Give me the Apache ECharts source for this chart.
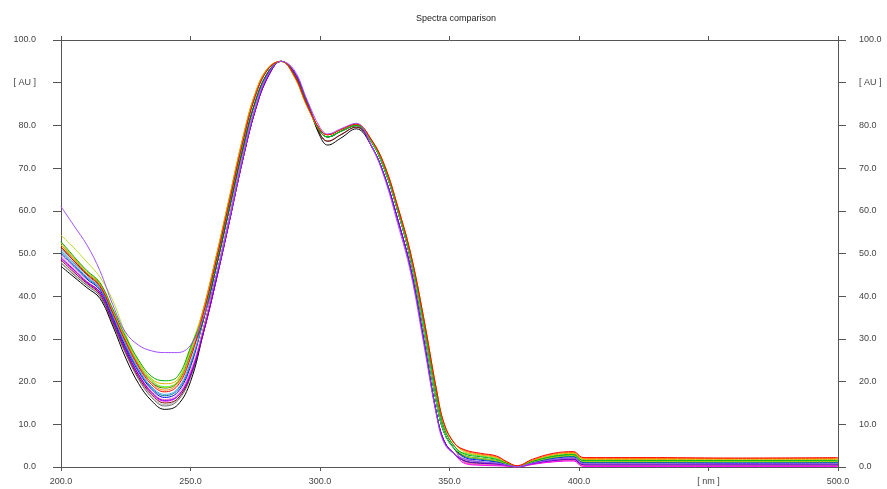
<!DOCTYPE html>
<html>
<head>
<meta charset="utf-8">
<title>Spectra comparison</title>
<script src="https://cdn.jsdelivr.net/npm/echarts@6/dist/echarts.min.js"></script>
<style>
  html, body { margin: 0; padding: 0; background: #fff; }
  #main { width: 887px; height: 489px; }
</style>
</head>
<body>
<div id="main"></div>
<script>
// wavelength grid [nm], shared by every spectrum
var wl = [200, 205, 210, 215, 220, 225, 230, 235, 240, 245, 250, 255, 260, 265, 270, 275, 280, 285, 290, 295,
          300, 303, 308, 314, 320, 325, 330, 335, 340, 345, 348, 352, 356, 362, 368, 372, 376, 382, 390, 398,
          401, 403, 430, 460, 500];

// absorbance [AU], one array per trace
var blackVals = [47, 44.5, 42, 39.5, 33, 25.5, 19.5, 15.5, 13.5, 14.5, 20, 31.5, 44, 57.5, 71.5, 83.5, 91.5, 95, 92.5, 85.5,
                 77.5, 75.4, 77, 79.2, 75, 68, 58, 46.5, 30, 12.5, 6, 3, 1.4, 0.9, 0.7, 0.4, 0.1, 0.8, 1.5, 1.8,
                 0.6, 0.5, 0.5, 0.5, 0.5];
var grayVals = [47.8, 45, 42.5, 40, 33.5, 26.5, 20.5, 16.3, 14.3, 15.5, 21, 31.5, 44, 57.5, 71.5, 83.5, 91.5, 95, 92.5, 85.5,
                78, 76.3, 77.8, 79.6, 75, 68, 58, 46.5, 30, 12.5, 6, 3, 1.8, 1.2, 0.9, 0.5, 0.1, 0.9, 1.7, 2.1,
                0.8, 0.7, 0.7, 0.7, 0.7];
var maroonVals = [48.5, 45.6, 43, 40.5, 34, 27, 21, 17, 15, 16, 21.5, 32.5, 45, 58.5, 72.5, 84.2, 92, 95, 92.3, 85.2,
                  78, 76.3, 77.8, 79.6, 76, 69.5, 60, 48.5, 32.5, 15, 8, 4.2, 1.1, 0.6, 0.5, 0.3, 0, 0.7, 1.3, 1.6,
                  0.4, 0.3, 0.3, 0.3, 0.3];
var magentaVals = [48.8, 46, 43.2, 40.8, 34.3, 27.3, 21.4, 17.3, 15.4, 16.5, 22, 31.5, 44, 57.5, 71.5, 83.5, 91.5, 95, 92.5, 85.5,
                   78.6, 77.3, 78.6, 80, 75, 68, 58, 46.5, 30, 12.5, 6, 3, 0.8, 0.4, 0.3, 0.2, 0, 0.6, 1.2, 1.4,
                   0.2, 0.1, 0.1, 0.1, 0.1];
var pinkVals = [49.5, 46.5, 43.5, 41, 34.6, 27.6, 21.8, 17.7, 15.8, 17, 22.5, 32.5, 45, 58.5, 72.5, 84.2, 92, 95, 92.3, 85.2,
                78.6, 77.3, 78.6, 80, 76, 69.5, 60, 48.5, 32.5, 15, 8, 4.2, 1.1, 0.6, 0.5, 0.3, 0, 0.7, 1.3, 1.6,
                0.4, 0.3, 0.3, 0.3, 0.3];
var purpleVals = [49, 46.2, 43.3, 41, 34.5, 27.5, 21.6, 17.5, 15.6, 16.6, 21.5, 31.5, 44, 57.5, 71.5, 83.5, 91.5, 95, 92.5, 85.5,
                  78.6, 77.3, 78.6, 80, 75, 68, 58, 46.5, 30, 12.5, 6, 3, 1.4, 0.9, 0.7, 0.4, 0.1, 0.8, 1.5, 1.8,
                  0.6, 0.5, 0.5, 0.5, 0.5];
var blueVals = [50, 47, 44, 41.5, 35, 28, 22.3, 18.2, 16.3, 17.5, 23.5, 34.5, 47, 60.5, 74, 85.5, 92.5, 95, 92, 85,
                78.6, 77.3, 78.6, 80, 76, 69.5, 60, 48.5, 32.5, 15, 8, 4.2, 2.2, 1.6, 1.2, 0.6, 0.1, 1, 2, 2.4,
                1.1, 1, 1, 0.9, 1];
var tealVals = [50.5, 47.4, 44.3, 41.8, 35.3, 28.4, 22.6, 18.5, 16.7, 18, 24, 34.5, 47, 60.5, 74, 85.5, 92.5, 95, 92, 85,
                78.6, 77.3, 78.6, 80, 76, 69.5, 60, 48.5, 32.5, 15, 8, 4.2, 2.4, 1.8, 1.3, 0.7, 0.1, 1.1, 2.1, 2.5,
                1.2, 1.1, 1.1, 1.1, 1.1];
var skyVals = [51, 47.8, 44.6, 42, 35.6, 28.7, 22.9, 18.8, 17, 18.3, 24.5, 34.5, 47, 60.5, 74, 85.5, 92.5, 95, 92, 85,
               78.6, 77.3, 78.6, 80, 76.3, 70, 60.5, 49.3, 34, 16.8, 9, 4.8, 2.6, 2, 1.5, 0.8, 0.2, 1.2, 2.3, 2.7,
               1.4, 1.3, 1.3, 1.3, 1.3];
var silverVals = [48, 45.2, 42.7, 40.2, 33.8, 26.8, 20.8, 16.6, 14.6, 15.8, 21.5, 32.5, 45, 58.5, 72.5, 84.2, 92, 95, 92.3, 85.2,
                  78, 76.3, 77.8, 79.6, 76, 69.5, 60, 48.5, 32.5, 15, 8, 4.2, 1.8, 1.2, 0.9, 0.5, 0.1, 0.9, 1.7, 2.1,
                  0.8, 0.7, 0.7, 0.7, 0.7];
var redVals = [51.5, 48.2, 45, 42.3, 36, 29.2, 23.4, 19.3, 17.6, 19, 25.5, 36, 48.5, 62, 75.5, 86.8, 93.2, 95, 91.8, 84.8,
               79, 77.8, 79, 80.3, 76.5, 70.5, 61, 50, 35, 18, 10, 5.5, 4, 3.2, 2.6, 1.3, 0.3, 1.8, 3.2, 3.6,
               2.3, 2.2, 2.2, 2.1, 2.2];
var orangeVals = [52, 48.6, 45.4, 42.7, 36.3, 29.6, 23.8, 19.7, 18, 19.5, 26, 37, 49.5, 63, 76.5, 87.5, 93.5, 95, 91.5, 84.5,
                  79, 77.8, 79, 80.3, 76.5, 70.5, 61, 50, 35, 18, 10, 5.5, 3.8, 3, 2.4, 1.2, 0.3, 1.6, 3, 3.4,
                  2.1, 2, 2, 2, 2];
var goldVals = [52.5, 49, 45.8, 43, 36.8, 30.2, 24.6, 20.6, 19.5, 20.5, 27.5, 37, 49.5, 63, 76.5, 87.5, 93.5, 95, 91.5, 84.5,
                79, 77.8, 79, 80.3, 76.5, 70.5, 61, 50, 35, 18, 10, 5.5, 3.5, 2.8, 2.2, 1.1, 0.2, 1.5, 2.8, 3.2,
                1.9, 1.8, 1.8, 1.8, 1.8];
var greenVals = [52.8, 49.3, 46, 43.2, 37, 30.5, 25, 21.2, 20.2, 21.2, 28, 36, 48.5, 62, 75.5, 86.8, 93.2, 95, 91.8, 84.8,
                 78.6, 77.3, 78.6, 80, 76.3, 70, 60.5, 49.3, 34, 16.8, 9, 4.8, 3, 2.4, 1.8, 0.9, 0.2, 1.3, 2.5, 2.9,
                 1.6, 1.5, 1.5, 1.5, 1.5];
var limeVals = [52, 48.8, 45.5, 42.8, 36.5, 29.9, 24.2, 20.2, 18.8, 20, 27, 37, 49.5, 63, 76.5, 87.5, 93.5, 95, 91.5, 84.5,
                78.6, 77.3, 78.6, 80, 76, 69.5, 60, 48.5, 32.5, 15, 8, 4.2, 3.2, 2.6, 2, 1, 0.2, 1.4, 2.6, 3,
                1.7, 1.7, 1.7, 1.6, 1.7];
var yellowGreenVals = [54.3, 51.3, 48, 44.5, 39, 31, 24.5, 20.5, 18.6, 20, 28, 37, 49.5, 63, 76.5, 87.5, 93.5, 95, 91.5, 84.5,
                       79, 77.8, 79, 80.3, 76.3, 70, 60.5, 49.3, 34, 16.8, 9, 4.8, 2.6, 2, 1.5, 0.8, 0.2, 1.2, 2.3, 2.7,
                       1.4, 1.3, 1.3, 1.3, 1.3];
var darkGreenVals = [51.5, 48.3, 45.2, 42.5, 36.2, 29.5, 23.8, 19.8, 18.5, 19.8, 26.5, 34.5, 47, 60.5, 74, 85.5, 92.5, 95, 92, 85,
                     78.6, 77.3, 78.6, 80, 76, 69.5, 60, 48.5, 32.5, 15, 8, 4.2, 2.6, 2, 1.5, 0.8, 0.2, 1.2, 2.3, 2.7,
                     1.4, 1.3, 1.3, 1.3, 1.3];
var violetVals = [61, 56.5, 52, 46, 38, 31.5, 28.5, 27.2, 26.8, 26.8, 28.5, 35, 45, 58, 72, 84, 92, 95, 93, 86,
                  79.5, 78, 79.2, 80.5, 75, 67.5, 57, 45.5, 29, 12, 5.5, 3, 1.8, 1.2, 0.9, 0.5, 0.1, 0.9, 1.7, 2.1,
                  0.8, 0.7, 0.7, 0.7, 0.7];

// draw order: first is at the bottom
var traces = [
    {name: 'silver', color: '#b8b8b8', vals: silverVals},
    {name: 'gray', color: '#686868', vals: grayVals},
    {name: 'black', color: '#000000', vals: blackVals},
    {name: 'maroon', color: '#800000', vals: maroonVals},
    {name: 'pink', color: '#ff80c0', vals: pinkVals},
    {name: 'magenta', color: '#ff00ff', vals: magentaVals},
    {name: 'purple', color: '#7000e0', vals: purpleVals},
    {name: 'blue', color: '#0000ff', vals: blueVals},
    {name: 'teal', color: '#008080', vals: tealVals},
    {name: 'sky', color: '#40a0ff', vals: skyVals},
    {name: 'darkgreen', color: '#006000', vals: darkGreenVals},
    {name: 'lime', color: '#40f040', vals: limeVals},
    {name: 'gold', color: '#e0b000', vals: goldVals},
    {name: 'yellowgreen', color: '#b8e020', vals: yellowGreenVals},
    {name: 'green', color: '#00b000', vals: greenVals},
    {name: 'orange', color: '#ff8000', vals: orangeVals},
    {name: 'red', color: '#ff0000', vals: redVals},
    {name: 'violet', color: '#a050ff', vals: violetVals}
];

var axisColor = '#555555';
var labelFont = {color: '#444', fontSize: 9, fontFamily: 'Liberation Sans, Arial, sans-serif'};

function yLabel(v) { return v === 90 ? '[ AU ]' : v.toFixed(1); }
function xLabel(v) { return v === 450 ? '[ nm ]' : v.toFixed(1); }

var myChart = echarts.init(document.getElementById('main'));

var seriesArr = traces.map(function(t) {
    return {
        name: t.name,
        type: 'line',
        xAxisIndex: 0,
        yAxisIndex: 0,
        symbol: 'none',
        smooth: 0.4,
        lineStyle: {width: 1, color: t.color},
        itemStyle: {color: t.color},
        data: wl.map(function(x, i) { return [x, t.vals[i]]; })
    };
});

var option = {
    animation: false,
    backgroundColor: '#ffffff',
    title: {
        text: 'Spectra comparison',
        left: 411,
        top: 9,
        textStyle: {fontSize: 9, fontWeight: 'normal', color: '#222', fontFamily: 'Liberation Sans, Arial, sans-serif'}
    },
    grid: {left: 61, right: 49, top: 40, bottom: 22, containLabel: false},
    xAxis: [
        {
            type: 'value', position: 'bottom', min: 200, max: 500, interval: 50,
            axisLine: {show: true, onZero: false, lineStyle: {color: axisColor}},
            axisTick: {show: true, length: 4, lineStyle: {color: axisColor}},
            axisLabel: Object.assign({formatter: xLabel, margin: 10}, labelFont),
            splitLine: {show: false}
        },
        {
            type: 'value', position: 'top', min: 200, max: 500, interval: 50,
            axisLine: {show: true, onZero: false, lineStyle: {color: axisColor}},
            axisTick: {show: true, length: 4, lineStyle: {color: axisColor}},
            axisLabel: {show: false},
            splitLine: {show: false}
        }
    ],
    yAxis: [
        {
            type: 'value', position: 'left', min: 0, max: 100, interval: 10,
            axisLine: {show: true, onZero: false, lineStyle: {color: axisColor}},
            axisTick: {show: true, length: 8, lineStyle: {color: axisColor}},
            axisLabel: Object.assign({formatter: yLabel, margin: 25}, labelFont),
            splitLine: {show: false}
        },
        {
            type: 'value', position: 'right', min: 0, max: 100, interval: 10,
            axisLine: {show: true, onZero: false, lineStyle: {color: axisColor}},
            axisTick: {show: true, length: 8, lineStyle: {color: axisColor}},
            axisLabel: Object.assign({formatter: yLabel, margin: 21}, labelFont),
            splitLine: {show: false}
        }
    ],
    series: seriesArr
};

myChart.setOption(option);
</script>
</body>
</html>
